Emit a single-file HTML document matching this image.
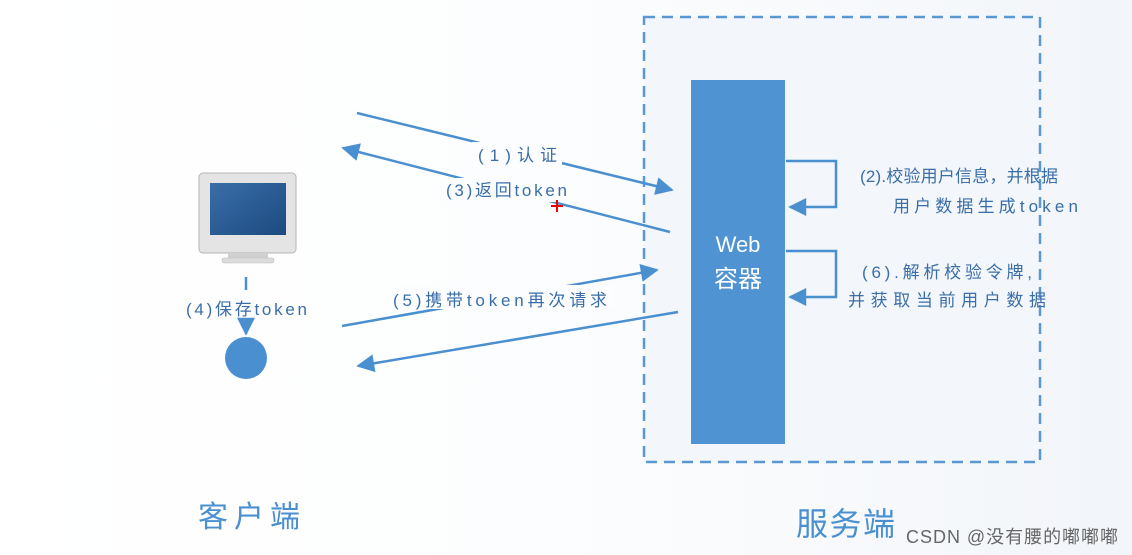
<!DOCTYPE html>
<html><head><meta charset="utf-8"><style>
body{margin:0;width:1132px;height:555px;overflow:hidden;background:linear-gradient(90deg,#fff 0%,#fcfdfe 50%,#f2f5f9 100%);font-family:"Liberation Sans","Noto Sans CJK SC",sans-serif}
svg{position:absolute;left:0;top:0}
</style></head><body>
<svg width="1132" height="555" viewBox="0 0 1132 555" font-family="Liberation Sans, Noto Sans CJK SC, sans-serif">
<defs>
<marker id="b" viewBox="0 0 10 10" refX="9" refY="5" markerWidth="20" markerHeight="18" orient="auto" markerUnits="userSpaceOnUse"><path d="M0,0L10,5L0,10z" fill="#4a8fd0"/></marker>
<linearGradient id="scr" x1="0" y1="0" x2="1" y2="1"><stop offset="0" stop-color="#3a6ea8"/><stop offset="1" stop-color="#1d4a80"/></linearGradient>
</defs>
<rect x="644" y="17" width="396" height="445" fill="#f3f6fa" stroke="#5b98d2" stroke-width="2.5" stroke-dasharray="11,7"/>
<rect x="691" y="80" width="94" height="364" fill="#4f93d3"/>
<text x="738" y="252" font-size="22" fill="#fff" text-anchor="middle">Web</text>
<text x="738" y="287" font-size="24" fill="#fff" text-anchor="middle">容器</text>
<g stroke="#4a8fd0" stroke-width="2.5" fill="none">
<line x1="357" y1="113" x2="672" y2="190" marker-end="url(#b)"/>
<line x1="670" y1="232" x2="343" y2="148" marker-end="url(#b)"/>
<line x1="342" y1="326" x2="657" y2="270" marker-end="url(#b)"/>
<line x1="678" y1="312" x2="358" y2="366" marker-end="url(#b)"/>
<polyline points="786,161 836,161 836,207 790,207" marker-end="url(#b)"/>
<polyline points="786,251 836,251 836,297 790,297" marker-end="url(#b)"/>
<line x1="246" y1="277" x2="246" y2="290"/>
<line x1="246" y1="318" x2="246" y2="334" marker-end="url(#b)"/>
</g>
<rect x="472" y="142" width="90" height="24" fill="#fcfdfe"/>
<text x="478" y="161" font-size="17" fill="#3a6ea8" textLength="79">(1)认证</text>
<rect x="440" y="178" width="132" height="24" fill="#fcfdfe"/>
<text x="446" y="196" font-size="17" fill="#3a6ea8" textLength="121">(3)返回token</text>
<rect x="400" y="285" width="214" height="24" fill="#fcfdfe"/>
<text x="393" y="306" font-size="17" fill="#3a6ea8" textLength="214">(5)携带token再次请求</text>
<text x="186" y="315" font-size="17" fill="#3a6ea8" textLength="121">(4)保存token</text>
<text x="860" y="182" font-size="17" fill="#3a6ea8" textLength="198">(2).校验用户信息，并根据</text>
<text x="893" y="212" font-size="17" fill="#3a6ea8" textLength="185">用户数据生成token</text>
<text x="862" y="278" font-size="17" fill="#3a6ea8" textLength="170">(6).解析校验令牌,</text>
<text x="848" y="306" font-size="17" fill="#3a6ea8" textLength="198">并获取当前用户数据</text>
<circle cx="246" cy="358" r="21" fill="#4a8fd0"/>
<rect x="199" y="173" width="97" height="80" rx="4" fill="#e4e4e4" stroke="#b5b5b5"/>
<rect x="210" y="183" width="76" height="52" fill="url(#scr)"/>
<rect x="228" y="253" width="40" height="5" fill="#d0d0d0"/>
<rect x="222" y="258" width="52" height="5" rx="2" fill="#dcdcdc" stroke="#bbb" stroke-width=".5"/>
<text x="198" y="527" font-size="30" fill="#4a8fd0" textLength="102">客户端</text>
<text x="796" y="535" font-size="32" fill="#4a8fd0" textLength="99">服务端</text>
<text x="906" y="543" font-size="18" fill="#666" textLength="212">CSDN @没有腰的嘟嘟嘟</text>
<path d="M557,200v12M551,206h12" stroke="#e00" stroke-width="2"/>
</svg>
</body></html>
